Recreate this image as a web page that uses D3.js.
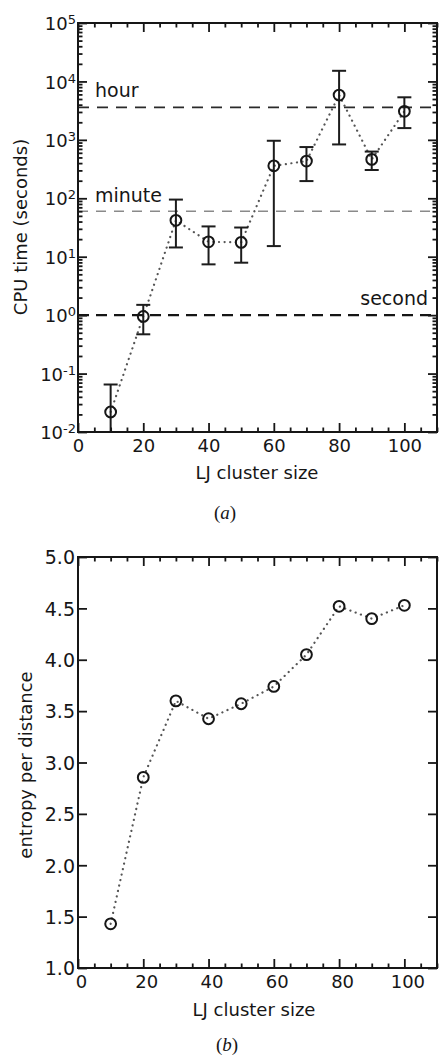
<html>
<script src="https://d3js.org/d3.v7.min.js"></script>
<style>
  body { margin: 0; background: #fff; }
  text { font-family: "DejaVu Sans", sans-serif; fill: #161616; }
  .tick line { stroke: #161616; stroke-width: 1.8; }
</style>
<body>
<svg width="440" height="1058"></svg>
<script>
// cluster sizes shared by both panels
const sizes = [10, 20, 30, 40, 50, 60, 70, 80, 90, 100];
// panel (a): CPU time with error bars
const cpuTime = [0.022, 0.95, 42, 18, 17.6, 360, 433, 5850, 463, 3080];
const cpuLow  = [0.005, 0.47, 14.4, 7.4, 7.9, 15.2, 197, 835, 305, 1590];
const cpuHigh = [0.065, 1.5, 95, 33, 31.6, 965, 753, 15200, 630, 5350];
const timeLabels = ["second", "minute", "hour"];
const timeValues = [1, 60, 3600];
// panel (b): entropy
const entropy = [1.43, 2.855, 3.60, 3.426, 3.572, 3.74, 4.05, 4.52, 4.40, 4.53];
// ticks
const xTicks = [0, 20, 40, 60, 80, 100];
const xMinor = d3.range(0, 111, 5).filter(v => v % 20 != 0);
const expTicks = [-2, -1, 0, 1, 2, 3, 4, 5];
const entropyTicks = [1.0, 1.5, 2.0, 2.5, 3.0, 3.5, 4.0, 4.5, 5.0];

const svg = d3.select("svg");
const ink = "#161616";

function frame(g, x, y, yMajor, yMinor, labelShift) {
  const [x0, x1] = x.range(), [yb, yt] = y.range();
  const ax = (axis, tx, ty) => g.append("g").attr("transform", `translate(${tx},${ty})`)
      .call(axis).call(s => s.select(".domain").remove());
  ax(d3.axisBottom(x).tickValues(xTicks).tickSize(-9).tickPadding(7).tickFormat(d3.format("d")), 0, yb)
    .selectAll("text").style("font-size", "18px").attr("fill", ink).attr("dx", labelShift);
  ax(d3.axisBottom(x).tickValues(xMinor).tickSize(-4.5).tickFormat(""), 0, yb);
  ax(d3.axisTop(x).tickValues(xTicks).tickSize(-9).tickFormat(""), 0, yt);
  ax(d3.axisTop(x).tickValues(xMinor).tickSize(-4.5).tickFormat(""), 0, yt);
  ax(d3.axisRight(y).tickValues(yMajor).tickSize(-9).tickFormat(""), x1, 0);
  const left = ax(d3.axisLeft(y).tickValues(yMajor).tickSize(-9).tickFormat(""), x0, 0);
  if (yMinor) {
    ax(d3.axisLeft(y).tickValues(yMinor).tickSize(-4.5).tickFormat(""), x0, 0);
    ax(d3.axisRight(y).tickValues(yMinor).tickSize(-4.5).tickFormat(""), x1, 0);
  }
  g.append("rect").attr("x", x0).attr("y", yt).attr("width", x1 - x0).attr("height", yb - yt)
    .attr("fill", "none").attr("stroke", ink).attr("stroke-width", 2);
  return left;
}

// ---------- panel (a) ----------
const xa = d3.scaleLinear().domain([0, 110]).range([78, 437]);
const ya = d3.scaleLog().domain([1e-2, 1e5]).range([432, 23]);
const ga = svg.append("g");
const logMinor = [];
expTicks.slice(0, -1).forEach(e => { for (let m = 2; m < 10; m++) logMinor.push(m * Math.pow(10, e)); });

svg.append("clipPath").attr("id", "clipA").append("rect")
  .attr("x", 78).attr("y", 23).attr("width", 359).attr("height", 409);

const dashStyle = [
  { stroke: "#151515", width: 2.3, dash: "11,7" },
  { stroke: "#8a8a8a", width: 1.3, dash: "10,8" },
  { stroke: "#2a2a2a", width: 1.6, dash: "11,8" }
];
timeValues.forEach((v, i) => {
  ga.append("line").attr("x1", 78).attr("x2", 437).attr("y1", ya(v)).attr("y2", ya(v))
    .attr("stroke", dashStyle[i].stroke).attr("stroke-width", dashStyle[i].width)
    .attr("stroke-dasharray", dashStyle[i].dash);
});
ga.append("text").attr("x", 428).attr("y", 305).attr("text-anchor", "end").style("font-size", "19px").text(timeLabels[0]);
ga.append("text").attr("x", 95).attr("y", 201.5).style("font-size", "19px").text(timeLabels[1]);
ga.append("text").attr("x", 95).attr("y", 97).style("font-size", "19px").text(timeLabels[2]);

const dotted = (x, y, vals) => d3.line().x((d, i) => x(sizes[i])).y(d => y(d))(vals);
ga.append("path").attr("d", dotted(xa, ya, cpuTime)).attr("fill", "none")
  .attr("stroke", "#555").attr("stroke-width", 2.2).attr("stroke-linecap", "round")
  .attr("stroke-dasharray", "0.1,5.5");

const bars = ga.append("g").attr("clip-path", "url(#clipA)").attr("stroke", "#1c1c1c").attr("stroke-width", 2);
sizes.forEach((s, i) => {
  const cx = xa(s);
  bars.append("line").attr("x1", cx).attr("x2", cx).attr("y1", ya(cpuLow[i])).attr("y2", ya(cpuHigh[i]));
  [cpuLow[i], cpuHigh[i]].forEach(v => bars.append("line")
    .attr("x1", cx - 7).attr("x2", cx + 7).attr("y1", ya(v)).attr("y2", ya(v)));
});
ga.selectAll("circle.pa").data(cpuTime).join("circle").attr("class", "pa")
  .attr("cx", (d, i) => xa(sizes[i])).attr("cy", d => ya(d)).attr("r", 5.4)
  .attr("fill", "none").attr("stroke", ink).attr("stroke-width", 2);

const leftA = frame(ga, xa, ya, expTicks.map(e => Math.pow(10, e)), logMinor, 0);
leftA.selectAll(".tick").each(function (d) {
  const t = d3.select(this).append("text").attr("x", -2).attr("y", 6.7)
    .attr("text-anchor", "end").attr("fill", ink).style("font-size", "18px");
  t.append("tspan").text("10");
  t.append("tspan").attr("dy", -6).style("font-size", "13px")
    .text(String(Math.round(Math.log10(d))).replace("-", "-"));
});

ga.append("text").attr("transform", "translate(27,227) rotate(-90)").attr("text-anchor", "middle")
  .style("font-size", "18px").text("CPU time (seconds)");
ga.append("text").attr("x", 257).attr("y", 479).attr("text-anchor", "middle")
  .style("font-size", "18px").text("LJ cluster size");
const capA = ga.append("text").attr("x", 225).attr("y", 519).attr("text-anchor", "middle")
  .style("font-family", "'Liberation Serif', serif").style("font-size", "19px");
capA.append("tspan").text("(");
capA.append("tspan").style("font-style", "italic").text("a");
capA.append("tspan").text(")");

// ---------- panel (b) ----------
const xb = d3.scaleLinear().domain([0, 110]).range([78, 437]);
const yb = d3.scaleLinear().domain([1, 5]).range([968, 557]);
const gb = svg.append("g");
gb.append("path").attr("d", dotted(xb, yb, entropy)).attr("fill", "none")
  .attr("stroke", "#555").attr("stroke-width", 2.2).attr("stroke-linecap", "round")
  .attr("stroke-dasharray", "0.1,5.5");
gb.selectAll("circle").data(entropy).join("circle")
  .attr("cx", (d, i) => xb(sizes[i])).attr("cy", d => yb(d)).attr("r", 5.4)
  .attr("fill", "none").attr("stroke", ink).attr("stroke-width", 2);
const leftB = frame(gb, xb, yb, entropyTicks, null, 3);
leftB.selectAll(".tick").append("text").attr("x", -3).attr("dy", "0.36em")
  .attr("text-anchor", "end").attr("fill", ink).style("font-size", "19px")
  .text(d => d3.format(".1f")(d));

gb.append("text").attr("transform", "translate(32,765) rotate(-90)").attr("text-anchor", "middle")
  .style("font-size", "18px").text("entropy per distance");
gb.append("text").attr("x", 254).attr("y", 1016).attr("text-anchor", "middle")
  .style("font-size", "18px").text("LJ cluster size");
const capB = gb.append("text").attr("x", 227).attr("y", 1051).attr("text-anchor", "middle")
  .style("font-family", "'Liberation Serif', serif").style("font-size", "19px");
capB.append("tspan").text("(");
capB.append("tspan").style("font-style", "italic").text("b");
capB.append("tspan").text(")");
</script>
</body>
</html>
